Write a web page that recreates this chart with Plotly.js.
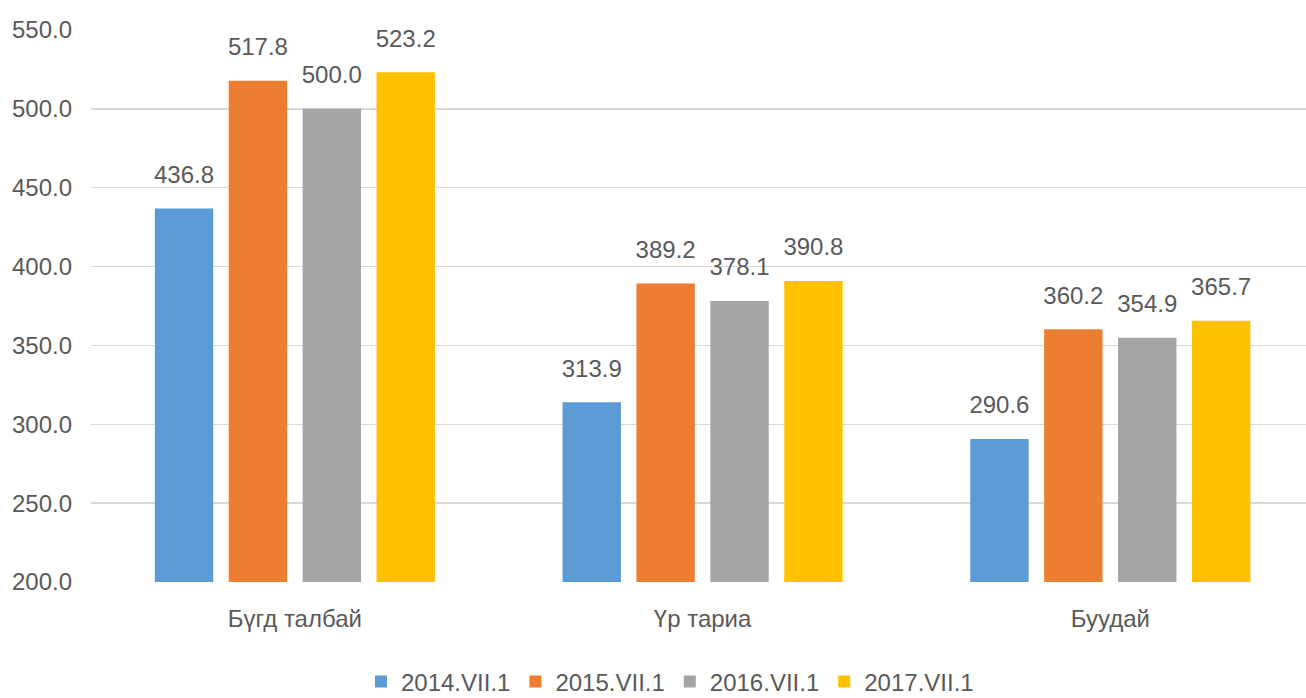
<!DOCTYPE html>
<html>
<head>
<meta charset="utf-8">
<script src="https://cdn.plot.ly/plotly-3.0.1.min.js"></script>
<style>html,body{margin:0;padding:0;background:#fff}#chart{width:1306px;height:698px}</style>
</head>
<body>
<div id="chart"></div>
<script>
const categories = ["Бүгд талбай", "Үр тариа", "Буудай"];
const seriesNames = ["2014.VII.1", "2015.VII.1", "2016.VII.1", "2017.VII.1"];
const s2014 = [436.8, 313.9, 290.6];
const s2015 = [517.8, 389.2, 360.2];
const s2016 = [500.0, 378.1, 354.9];
const s2017 = [523.2, 390.8, 365.7];
const colors = ["#5B9BD5", "#ED7D31", "#A5A5A5", "#FFC000"];

const font = "Liberation Sans, Arial, sans-serif";
const txtColor = "#595959";
const allSeries = [s2014, s2015, s2016, s2017];

const bars = allSeries.map((vals, i) => ({
  type: "bar",
  name: seriesNames[i],
  x: categories,
  y: vals,
  marker: {color: colors[i]},
  offsetgroup: "g" + i,
  hoverinfo: "skip"
}));
const labels = allSeries.map((vals, i) => ({
  type: "scatter",
  mode: "markers+text",
  x: categories,
  y: vals,
  text: vals.map(v => v.toFixed(1)),
  textposition: "top center",
  marker: {size: 30, opacity: 0},
  offsetgroup: "g" + i,
  textfont: {family: font, size: 24, color: txtColor},
  cliponaxis: false,
  showlegend: false,
  hoverinfo: "skip"
}));

const layout = {
  width: 1306, height: 698,
  margin: {l: 91, r: 0, t: 30, b: 116},
  paper_bgcolor: "#fff", plot_bgcolor: "#fff",
  barmode: "group",
  bargap: 0.275,
  bargroupgap: 0.21,
  scattermode: "group",
  scattergap: 0.275,
  font: {family: font, size: 24, color: txtColor},
  xaxis: {
    type: "category",
    range: [-0.5, 2.48],
    showgrid: false, zeroline: false, showline: false,
    ticks: "", ticklabelstandoff: 20,
    tickfont: {family: font, size: 24, color: txtColor}
  },
  yaxis: {
    range: [200, 550],
    dtick: 50, tick0: 200,
    tickformat: ".1f",
    showgrid: true, gridcolor: "#D9D9D9", gridwidth: 1.5,
    zeroline: false, showline: false,
    ticks: "", ticklabelstandoff: 18,
    tickfont: {family: font, size: 24, color: txtColor}
  },
  showlegend: true,
  legend: {
    orientation: "h",
    xref: "container", yref: "container",
    x: 0.513, xanchor: "center",
    y: 0.023, yanchor: "middle",
    font: {family: font, size: 24, color: txtColor},
    itemwidth: 30,
    itemclick: false
  }
};

Plotly.newPlot("chart", bars.concat(labels), layout, {displayModeBar: false, staticPlot: true});
</script>
</body>
</html>
